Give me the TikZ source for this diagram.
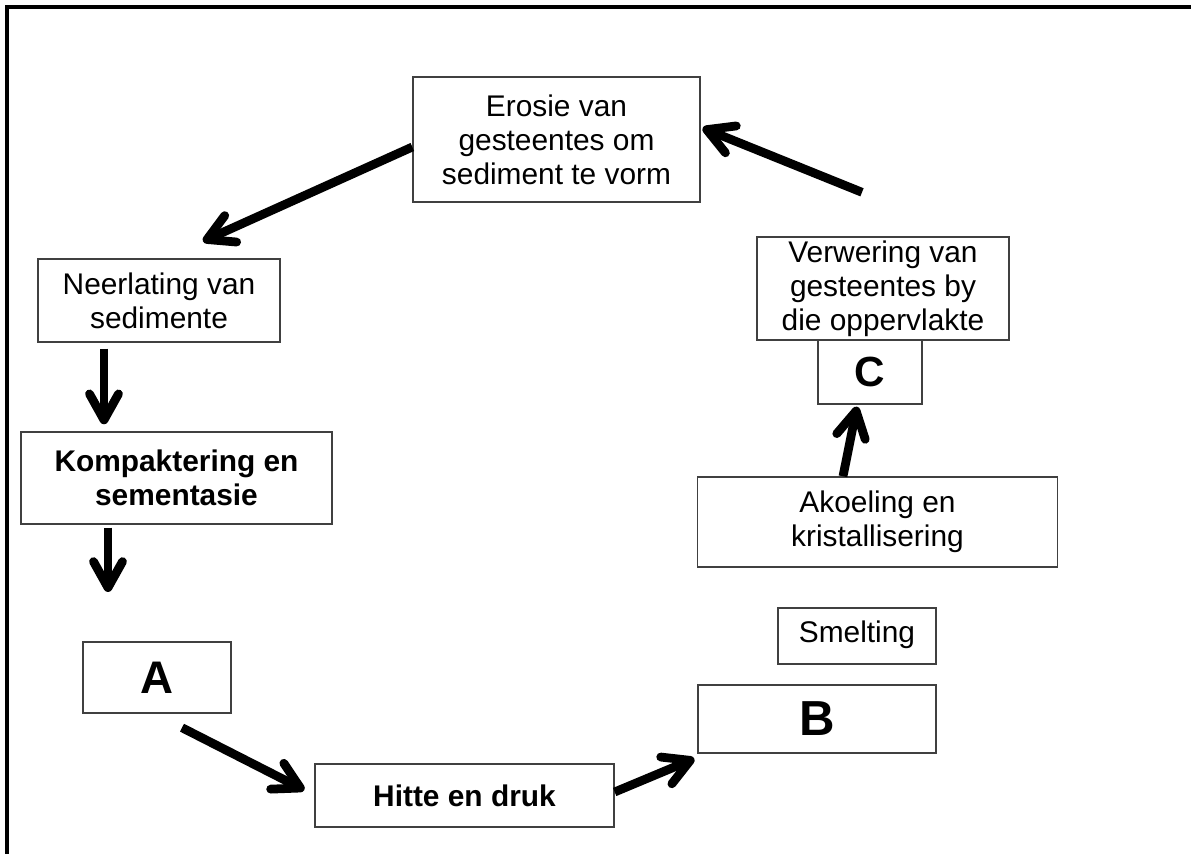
\documentclass[tikz,border=0pt]{standalone}
\usepackage{fontspec}
\setmainfont{Liberation Sans}
\usetikzlibrary{arrows.meta}
\tikzstyle{process}=[
        draw = black!75,
        line width = 0.8pt,
        fill = white,
        align = center,
        inner sep = 0pt,
        font = \fontsize{17}{19.3}\selectfont
    ]
\tikzstyle{letter}=[
    draw = black!75,
    line width = 0.8pt,
    fill = white,
    inner sep = 0pt
]

\begin{document}
\begin{tikzpicture}[x=0.02cm, y=-0.02cm, flow/.style = {line width=5pt, -{Straight Barb[length=0.52cm, width=0.58cm, round]}}]
        \useasboundingbox (0,0) rectangle (1191,854);
        \draw[line width=2.3pt] (7,854) -- (7,7) -- (1191,7);

        \node[process, minimum width=5.74cm, minimum height=2.5cm] (erosie) at (556.5,139.5) {Erosie van\\gesteentes om\\sediment te vorm};
        \node[process, minimum width=4.84cm, minimum height=1.66cm] (neerlating) at (159,300.5) {Neerlating van\\sedimente};
        \node[process, minimum width=6.22cm, minimum height=1.84cm, font=\fontsize{17}{19.3}\selectfont\bfseries] (kompaktering) at (176.5,478) {Kompaktering en\\sementasie};
        \node[letter, minimum width=2.96cm, minimum height=1.42cm, font=\fontsize{26}{30}\selectfont\bfseries] (A) at (157,677.5) {A};
        \node[process, minimum width=5.98cm, minimum height=1.26cm, font=\fontsize{17}{19.3}\selectfont\bfseries] (hitte) at (464.5,795.5) {Hitte en druk};
        \node[letter, minimum width=4.76cm, minimum height=1.36cm, font=\fontsize{28}{32}\selectfont\bfseries] (B) at (817,719) {B};
        \node[process, minimum width=3.16cm, minimum height=1.12cm] (smelting) at (857,636) {\strut Smelting};
        \node[process, minimum width=7.2cm, minimum height=1.8cm] (akoeling) at (877.5,522) {Akoeling en\\kristallisering};
        \node[letter, minimum width=2.08cm, minimum height=1.28cm, font=\fontsize{24}{28}\selectfont\bfseries] (C) at (870,372) {C};
        \node[process, minimum width=5.04cm, minimum height=2.06cm] (verwering) at (883,288.5) {Verwering van\\gesteentes by\\die oppervlakte};
        \coordinate (down) at (108,592);

        \draw[flow] ([shift={(0,7.5)}]erosie.west) -- ([shift={(44,-17)}]neerlating.north);
        \draw[flow] ([shift={(-55,6)}]neerlating.south) -- ([shift={(-72.5,-7)}]kompaktering.north);
        \draw[flow] ([shift={(-68.5,3)}]kompaktering.south) -- (down);
        \draw[flow] ([shift={(25,14)}]A.south) -- ([shift={(-10,-5.5)}]hitte.west);
        \draw[flow] ([shift={(0,-3.5)}]hitte.east) -- ([shift={(-3,5)}]B.south west);
        \draw[flow] ([shift={(-34.5,0)}]akoeling.north) -- ([shift={(-13,2)}]C.south);
        \draw[flow] ([shift={(-21,-44)}]verwering.north) -- ([shift={(2,-11.5)}]erosie.east);

    \end{tikzpicture}
\end{document}
